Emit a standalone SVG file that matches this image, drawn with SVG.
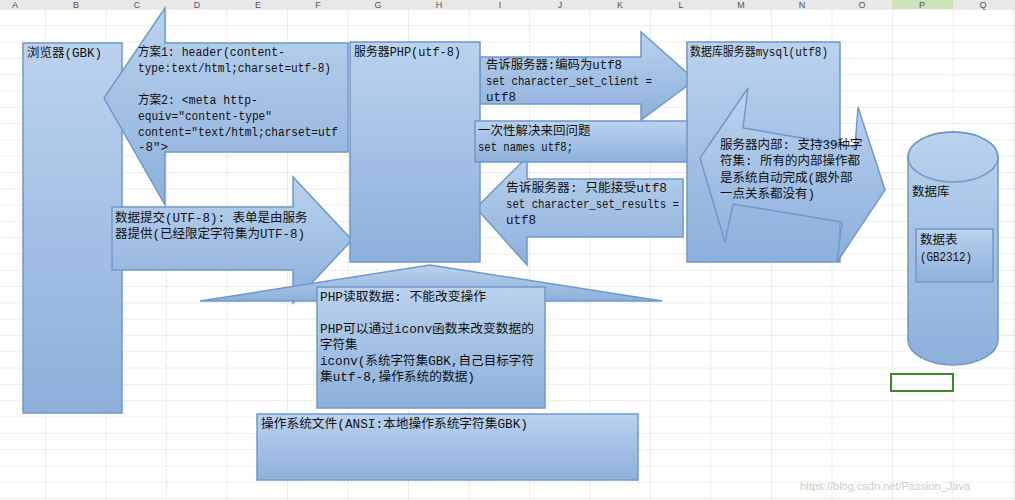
<svg xmlns="http://www.w3.org/2000/svg" width="1015" height="500" viewBox="0 0 1015 500">
<defs>
<linearGradient id="g" x1="0" y1="0" x2="0" y2="1"><stop offset="0" stop-color="#bad2ee"/><stop offset="1" stop-color="#8cb0db"/></linearGradient>
<pattern id="grid" x="45" y="9" width="60.5" height="16.3" patternUnits="userSpaceOnUse"><path d="M0 0V16.3M0 0H60.5" fill="none" stroke="#dcdcdc" stroke-width="1"/></pattern>
</defs>
<style>
.s{fill:url(#g);stroke:#7098c8;stroke-width:1.5}
text{font-family:"Liberation Mono","Noto Sans CJK SC",monospace;font-size:12.5px;fill:#111}
.h{font-family:"Liberation Sans",sans-serif;font-size:9px;fill:#555;text-anchor:middle}
</style>
<rect width="1015" height="500" fill="#fff"/>
<rect y="9" width="1015" height="491" fill="url(#grid)"/>
<rect width="1015" height="9" fill="#e8e8e8"/>
<rect x="892" width="61" height="9" fill="#cfe3b8"/>
<g><text class="h" x="15" y="8">A</text><text class="h" x="76" y="8">B</text><text class="h" x="137" y="8">C</text><text class="h" x="197" y="8">D</text><text class="h" x="258" y="8">E</text><text class="h" x="318" y="8">F</text><text class="h" x="378" y="8">G</text><text class="h" x="439" y="8">H</text><text class="h" x="500" y="8">I</text><text class="h" x="560" y="8">J</text><text class="h" x="620" y="8">K</text><text class="h" x="681" y="8">L</text><text class="h" x="741" y="8">M</text><text class="h" x="802" y="8">N</text><text class="h" x="862" y="8">O</text><text class="h" x="922" y="8">P</text><text class="h" x="983" y="8">Q</text></g>

<g id="browser"><rect class="s" x="23" y="43" width="99" height="370"/><text x="27" y="57">浏览器(GBK)</text></g>

<g id="connectors">
<g id="arrow-header"><polygon class="s" points="165,8 165,43 348,43 348,152 165,152 165,205 104,98"/>
<text x="138" y="56" textLength="147" lengthAdjust="spacingAndGlyphs">方案1: header(content-</text><text x="138" y="72" textLength="193" lengthAdjust="spacingAndGlyphs">type:text/html;charset=utf-8)</text>
<text x="138" y="104" textLength="120" lengthAdjust="spacingAndGlyphs">方案2: &lt;meta http-</text><text x="138" y="120" textLength="134" lengthAdjust="spacingAndGlyphs">equiv="content-type"</text><text x="138" y="136" textLength="200" lengthAdjust="spacingAndGlyphs">content="text/html;charset=utf</text><text x="138" y="151">-8"&gt;</text></g>
<g id="arrow-submit"><polygon class="s" points="112,207 293,207 293,177 352,240 293,303 293,270 112,270"/>
<text x="115" y="222">数据提交(UTF-8): 表单是由服务</text><text x="115" y="238">器提供(已经限定字符集为UTF-8)</text></g>
<g id="arrow-client"><polygon class="s" points="480,57 641,57 641,32 695,80 641,120 641,104 480,104"/>
<text x="486" y="69" textLength="136" lengthAdjust="spacingAndGlyphs">告诉服务器:编码为utf8</text><text x="486" y="85" textLength="166" lengthAdjust="spacingAndGlyphs">set character_set_client =</text><text x="486" y="101">utf8</text></g>
<g id="arrow-results"><polygon class="s" points="683,179 527,179 527,157 476,208 527,265 527,237 683,237"/>
<text x="506" y="192" textLength="161" lengthAdjust="spacingAndGlyphs">告诉服务器: 只能接受utf8</text><text x="506" y="208" textLength="173" lengthAdjust="spacingAndGlyphs">set character_set_results =</text><text x="506" y="224">utf8</text></g>
<g id="arrow-read"><polygon class="s" points="200,301 430,265 662,301"/></g>
</g>

<g id="php"><rect class="s" x="350" y="42" width="130" height="220"/><text x="354" y="56" textLength="107" lengthAdjust="spacingAndGlyphs">服务器PHP(utf-8)</text></g>
<g id="setnames"><rect class="s" x="475" y="121" width="215" height="41"/><text x="478" y="135">一次性解决来回问题</text><text x="478" y="151" textLength="95" lengthAdjust="spacingAndGlyphs">set names utf8;</text></g>
<g id="mysql"><rect class="s" x="687" y="42" width="153" height="220"/><text x="690" y="56" textLength="138" lengthAdjust="spacingAndGlyphs">数据库服务器mysql(utf8)</text></g>
<g id="internal"><polygon class="s" points="700,158 748,88 743,128 855,147 858,107 885,190 837,262 842,222 733,204 725,242"/>
<text x="720" y="149">服务器内部: 支持39种字</text><text x="720" y="165">符集: 所有的内部操作都</text><text x="720" y="182">是系统自动完成(跟外部</text><text x="720" y="198">一点关系都没有)</text></g>
<g id="database"><path class="s" d="M908,157 V340 A45,25 0 0 0 998,340 V157 A45,25 0 0 0 908,157 Z"/><ellipse cx="953" cy="157" rx="45" ry="25" fill="none" stroke="#7098c8" stroke-width="1.5"/>
<text x="912" y="196">数据库</text></g>
<g id="table"><rect class="s" x="916" y="229" width="77" height="53"/><text x="920" y="244">数据表</text><text x="920" y="261" textLength="52" lengthAdjust="spacingAndGlyphs">(GB2312)</text></g>
<g id="phpread"><rect class="s" x="317" y="287" width="228" height="121"/>
<text x="320" y="301" textLength="166" lengthAdjust="spacingAndGlyphs">PHP读取数据: 不能改变操作</text><text x="320" y="333" textLength="214" lengthAdjust="spacingAndGlyphs">PHP可以通过iconv函数来改变数据的</text><text x="320" y="349">字符集</text><text x="320" y="365" textLength="214" lengthAdjust="spacingAndGlyphs">iconv(系统字符集GBK,自己目标字符</text><text x="320" y="381" textLength="155" lengthAdjust="spacingAndGlyphs">集utf-8,操作系统的数据)</text></g>
<g id="osfile"><rect class="s" x="257" y="414" width="381" height="66"/><text x="261" y="428" textLength="267" lengthAdjust="spacingAndGlyphs">操作系统文件(ANSI:本地操作系统字符集GBK)</text></g>
<rect x="891" y="374" width="62" height="17" fill="none" stroke="#3c8a2e" stroke-width="2"/>
<text x="800" y="490" style="font-size:11px;fill:#ccc;font-family:'Liberation Sans',sans-serif">https://blog.csdn.net/Passion_Java</text>
</svg>
